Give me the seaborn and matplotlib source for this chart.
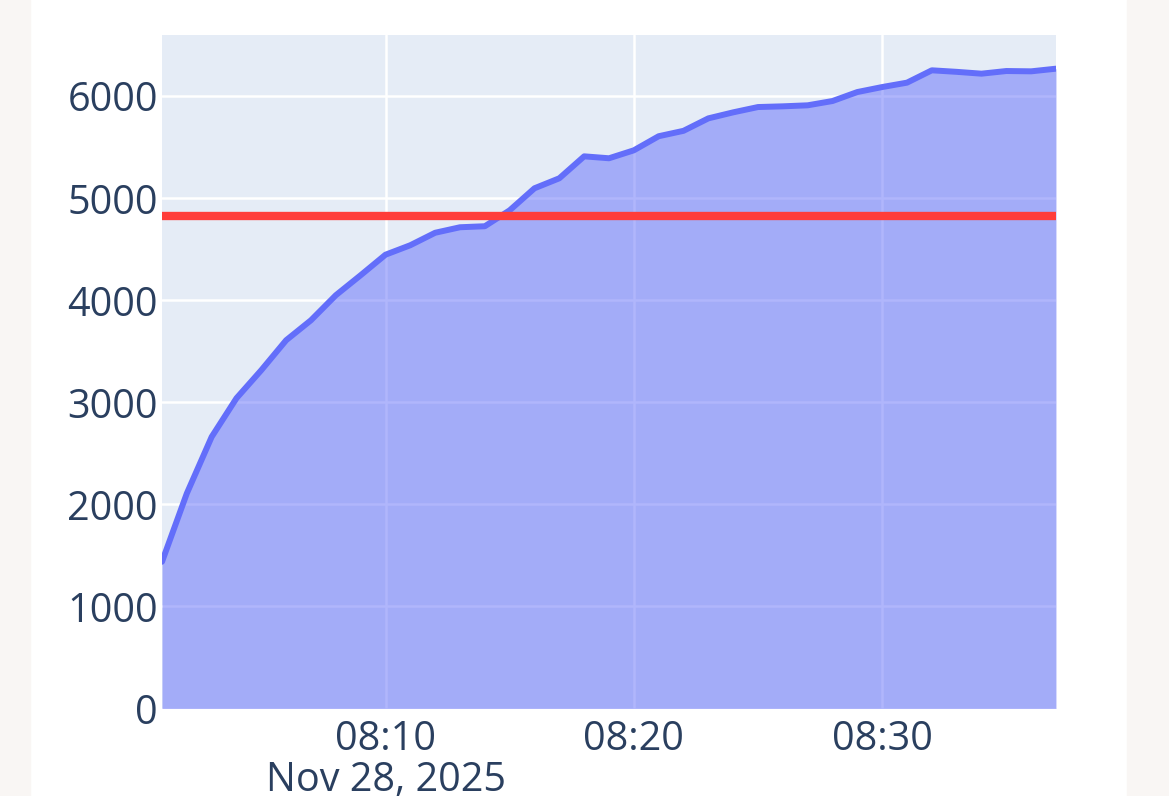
import pandas as pd
import numpy as np
import matplotlib
matplotlib.use("Agg")
import matplotlib.pyplot as plt
from matplotlib.patches import Rectangle
import seaborn as sns

# minute-by-minute values (08:01 .. 08:37)
minutes = list(range(1, 38))
values = [1438, 2108, 2662, 3041, 3316, 3609, 3805, 4050, 4246, 4447,
          4540, 4662, 4716, 4726, 4882, 5098, 5196, 5411, 5392, 5470,
          5608, 5661, 5783, 5842, 5894, 5901, 5911, 5953, 6041, 6090,
          6133, 6254, 6239, 6221, 6247, 6244, 6270]
threshold = 4824
y_ticks = [0, 1000, 2000, 3000, 4000, 5000, 6000]

df = pd.DataFrame({
    "time": pd.Timestamp("2025-11-28 08:00") + pd.to_timedelta(minutes, unit="min"),
    "value": values,
})

line_color = "#636efa"
text_color = "#2a3f5f"

sns.set_style("white")
plt.rcParams["font.family"] = ["Open Sans", "DejaVu Sans"]

fig = plt.figure(figsize=(11.69, 7.96), dpi=100)
fig.patch.set_facecolor("white")
# light side margins of the page
fig.patches.append(Rectangle((0, 0), 30 / 1169, 1, transform=fig.transFigure,
                             color="#f9f6f4", zorder=-10))
fig.patches.append(Rectangle((1127 / 1169, 0), 1 - 1127 / 1169, 1, transform=fig.transFigure,
                             color="#f9f6f4", zorder=-10))

ax = fig.add_axes([162 / 1169, 1 - 708.5 / 796, (1056 - 162) / 1169, (708.5 - 35) / 796])
ax.set_facecolor("#E5ECF6")

ax.fill_between(df["time"], 0, df["value"], color=line_color, alpha=0.5, linewidth=0, zorder=2)
sns.lineplot(data=df, x="time", y="value", ax=ax, color=line_color, linewidth=4.3, zorder=3)
ax.axhline(threshold, color="#ff3d3a", linewidth=6, zorder=4)

ax.set_xlim(df["time"].iloc[0], df["time"].iloc[-1])
ax.set_ylim(0, 6600)
ax.set_yticks(y_ticks)

tick_times = pd.to_datetime(["2025-11-28 08:10", "2025-11-28 08:20", "2025-11-28 08:30"])
ax.set_xticks(tick_times)
ax.set_xticklabels(["08:10\nNov 28, 2025", "08:20", "08:30"], linespacing=1.0, va="top")

ax.grid(True, color="white", linewidth=1.8)
ax.set_axisbelow(True)
for s in ax.spines.values():
    s.set_visible(False)
ax.tick_params(axis="both", length=0, labelsize=28.5, colors=text_color)
ax.tick_params(axis="y", pad=3)
ax.tick_params(axis="x", pad=8)
for lab in ax.get_xticklabels():
    lab.set_horizontalalignment("center")
ax.set_xlabel("")
ax.set_ylabel("")

fig.savefig("out.png", dpi=100)
